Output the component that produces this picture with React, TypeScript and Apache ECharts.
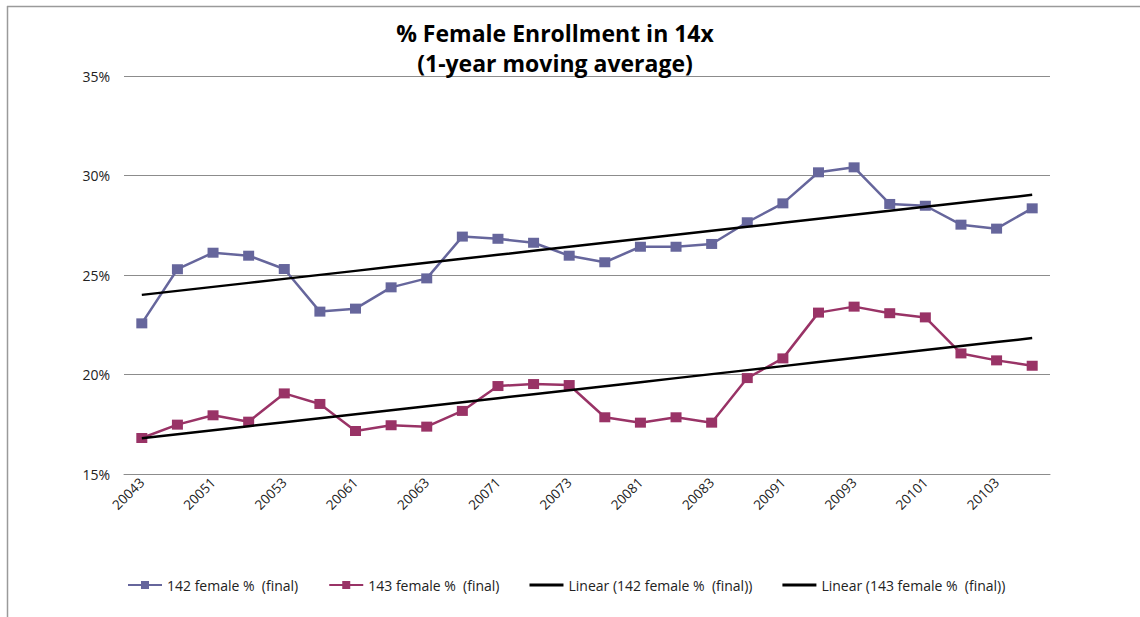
import React, { useEffect, useRef } from "react";
import * as echarts from "echarts";

const categories = [
  "20043", "20044",
  "20051", "20052", "20053", "20054",
  "20061", "20062", "20063", "20064",
  "20071", "20072", "20073", "20074",
  "20081", "20082", "20083", "20084",
  "20091", "20092", "20093", "20094",
  "20101", "20102", "20103", "20104",
];

const female142 = [
  22.57, 25.29, 26.12, 25.97, 25.3, 23.16, 23.31, 24.38, 24.83, 26.93,
  26.82, 26.62, 25.97, 25.64, 26.42, 26.42, 26.56, 27.65, 28.6, 30.16,
  30.41, 28.57, 28.48, 27.53, 27.33, 28.35,
];

const female143 = [
  16.81, 17.48, 17.95, 17.63, 19.05, 18.52, 17.16, 17.45, 17.38, 18.17,
  19.42, 19.52, 19.47, 17.85, 17.58, 17.85, 17.58, 19.82, 20.81, 23.11,
  23.41, 23.08, 22.87, 21.06, 20.71, 20.44,
];

const seriesNames = [
  "142 female %  (final)",
  "143 female %  (final)",
  "Linear (142 female %  (final))",
  "Linear (143 female %  (final))",
];

const yTicks = { min: 15, max: 35, interval: 5 };

function linearTrend(values: number[]): number[] {
  const n = values.length;
  let sx = 0, sy = 0, sxy = 0, sxx = 0;
  values.forEach((v, i) => {
    sx += i; sy += v; sxy += i * v; sxx += i * i;
  });
  const slope = (n * sxy - sx * sy) / (n * sxx - sx * sx);
  const intercept = (sy - slope * sx) / n;
  return values.map((_, i) => +(intercept + slope * i).toFixed(3));
}

const lineIcon = "path://M0,0 L34,0 L34,3 L0,3 Z";

export default function App() {
  const ref = useRef<HTMLDivElement>(null);

  useEffect(() => {
    document.body.style.margin = "0";
    if (!ref.current) return;
    const chart = echarts.init(ref.current, undefined, { renderer: "svg" });
    const font = "'Open Sans', sans-serif";
    chart.setOption({
      animation: false,
      backgroundColor: "#ffffff",
      textStyle: { fontFamily: font },
      title: {
        text: "% Female Enrollment in 14x\n(1-year moving average)",
        left: 550,
        textAlign: "center",
        top: 13,
        textStyle: {
          fontFamily: font,
          fontSize: 23,
          fontWeight: "bold",
          color: "#000000",
          lineHeight: 30,
        },
      },
      graphic: [
        { type: "line", shape: { x1: 7, y1: 6.5, x2: 1140, y2: 6.5 }, style: { stroke: "#9a9a9a", lineWidth: 1.5 } },
        { type: "line", shape: { x1: 7.5, y1: 6, x2: 7.5, y2: 617 }, style: { stroke: "#9a9a9a", lineWidth: 1.5 } },
      ],
      legend: {
        bottom: 20,
        left: 122,
        itemWidth: 34,
        itemHeight: 10,
        itemGap: 30,
        textStyle: { fontFamily: font, fontSize: 14, color: "#222222" },
        data: [
          { name: seriesNames[0] },
          { name: seriesNames[1] },
          { name: seriesNames[2], icon: lineIcon },
          { name: seriesNames[3], icon: lineIcon },
        ],
      },
      grid: { left: 124, right: 90, top: 76, bottom: 143, containLabel: false },
      xAxis: {
        type: "category",
        data: categories,
        boundaryGap: true,
        axisLine: { show: true, lineStyle: { color: "#8c8c8c" } },
        axisTick: { show: false },
        axisLabel: {
          interval: 1,
          rotate: 45,
          fontSize: 13.5,
          color: "#222222",
          fontFamily: font,
          margin: 6,
        },
      },
      yAxis: {
        type: "value",
        min: yTicks.min,
        max: yTicks.max,
        interval: yTicks.interval,
        axisLine: { show: false },
        axisTick: { show: false },
        axisLabel: {
          formatter: (v: number) => `${v}%`,
          fontSize: 14,
          color: "#222222",
          fontFamily: font,
          margin: 14,
        },
        splitLine: { lineStyle: { color: "#8c8c8c", width: 1 } },
      },
      series: [
        {
          name: seriesNames[0],
          type: "line",
          data: female142,
          symbol: "rect",
          symbolSize: [11, 10],
          lineStyle: { color: "#66669C", width: 2.5 },
          itemStyle: { color: "#66669C" },
          z: 3,
        },
        {
          name: seriesNames[1],
          type: "line",
          data: female143,
          symbol: "rect",
          symbolSize: [11, 10],
          lineStyle: { color: "#993366", width: 2.5 },
          itemStyle: { color: "#993366" },
          z: 3,
        },
        {
          name: seriesNames[2],
          type: "line",
          data: linearTrend(female142),
          symbol: "none",
          lineStyle: { color: "#000000", width: 2.5 },
          itemStyle: { color: "#000000" },
          z: 4,
        },
        {
          name: seriesNames[3],
          type: "line",
          data: linearTrend(female143),
          symbol: "none",
          lineStyle: { color: "#000000", width: 2.5 },
          itemStyle: { color: "#000000" },
          z: 4,
        },
      ],
    });
    return () => chart.dispose();
  }, []);

  return <div ref={ref} style={{ width: 1140, height: 617 }} />;
}
